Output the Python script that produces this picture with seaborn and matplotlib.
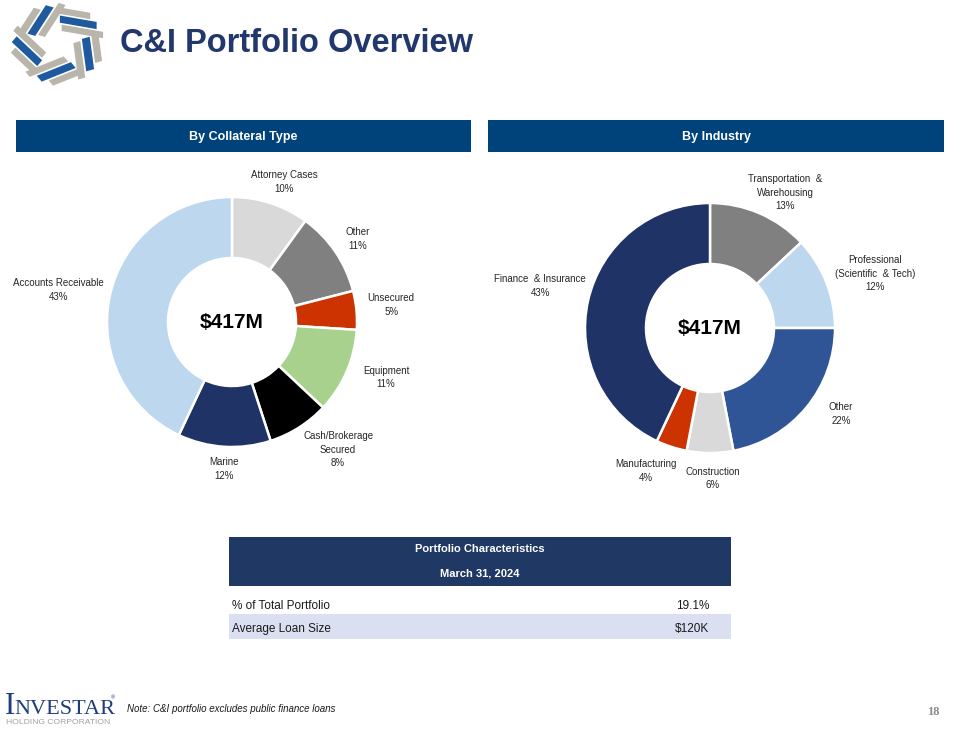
import numpy as np
import matplotlib
matplotlib.use("Agg")
import matplotlib.pyplot as plt
import seaborn as sns
from matplotlib.patches import Rectangle, Polygon

# ---------------- data ----------------
collateral_labels = ["Attorney Cases", "Other", "Unsecured", "Equipment",
                     "Cash/Brokerage\nSecured", "Marine", "Accounts Receivable"]
collateral_values = [10, 11, 5, 11, 8, 12, 43]
collateral_colors = ["#D9D9D9", "#808080", "#CC3300", "#A9D18E",
                     "#000000", "#1F3366", "#BDD7EE"]

industry_labels = ["Transportation  &\nWarehousing", "Professional\n(Scientific  & Tech)",
                   "Other", "Construction", "Manufacturing", "Finance  & Insurance"]
industry_values = [13, 12, 22, 6, 4, 43]
industry_colors = ["#808080", "#BDD7EE", "#2F5597", "#D9D9D9", "#CC3300", "#1F3366"]

center_label = "$417M"
panel_titles = ["By Collateral Type", "By Industry"]

table_header = ["Portfolio Characteristics", "March 31, 2024"]
table_rows = ["% of Total Portfolio", "Average Loan Size"]
table_values = ["19.1%", "$120K"]

title = "C&I Portfolio Overview"
note = "Note: C&I portfolio excludes public finance loans"
page_number = "18"

# label nudges in pixels (layout only)
collateral_nudge = [(0, 0), (-15, 0), (-10, 3), (-2, 3), (15, -3), (3, 0), (-8, 0)]
industry_nudge = [(8, 0), (7, 0), (0, 8), (3, -3), (-12, -3), (-4, 10)]

# ---------------- style ----------------
sns.set_theme(style="white")
SANS = ["Liberation Sans", "DejaVu Sans"]
SERIF = ["Liberation Serif", "DejaVu Serif"]
plt.rcParams["font.family"] = SANS

W, H = 960, 730
fig = plt.figure(figsize=(W / 100, H / 100), dpi=100)
fig.patch.set_facecolor("white")
ax = fig.add_axes([0, 0, 1, 1])


def Y(py):
    return H - py


HEADER_BLUE = "#00427A"
TITLE_NAVY = "#22376B"

# ---------------- logo ----------------
lcx, lcy, lrx, lry = 58, Y(44), 46, 40
GRAY_L, BLUE_L = "#B9B5AA", "#1F5A9E"


def P(pt):
    return (lcx + lrx * pt[0], lcy + lry * pt[1])


for k in range(5):
    a = np.deg2rad(90 - 72 * k)
    u = np.array([np.cos(a), np.sin(a)])
    v = np.array([np.sin(a), -np.cos(a)])  # clockwise tangent
    for (d0, thick, col, t0, t1) in [(0.92, 0.16, GRAY_L, -0.02, 0.70),
                                     (0.72, 0.18, BLUE_L, 0.04, 0.84),
                                     (0.50, 0.16, GRAY_L, 0.08, 0.98)]:
        tilt = 0.20
        pts = []
        for t, dd in [(t0, d0), (t1, d0), (t1, d0 - thick), (t0, d0 - thick)]:
            d = dd - tilt * t
            pts.append(P(d * u + t * v))
        ax.add_patch(Polygon(pts, closed=True, facecolor=col, edgecolor="none"))

# ---------------- title ----------------
ax.text(120, Y(43), title, fontsize=23.5, fontweight="bold", color=TITLE_NAVY,
        ha="left", va="center", family=SANS)

# ---------------- header bars ----------------
bars = [(16, 471), (488, 944)]
for (x0, x1), t in zip(bars, panel_titles):
    ax.add_patch(Rectangle((x0, Y(152)), x1 - x0, 32, facecolor=HEADER_BLUE, edgecolor="none"))
    ax.text((x0 + x1) / 2, Y(137), t, color="white", fontsize=9, fontweight="bold",
            ha="center", va="center", family=SANS)

# ---------------- donuts ----------------
R = 125
WIDTH = 61


def donut(center, values, colors, labels, nudges):
    pal = sns.color_palette(colors)
    wedges, _ = ax.pie(values, colors=pal, startangle=90, counterclock=False,
                       center=center, radius=R,
                       wedgeprops=dict(width=WIDTH, edgecolor="white", linewidth=1.8))
    for w, lab, v, (nx, ny) in zip(wedges, labels, values, nudges):
        mid = np.deg2rad((w.theta1 + w.theta2) / 2)
        x = center[0] + 1.36 * R * np.cos(mid) + nx
        y = center[1] + 1.18 * R * np.sin(mid) + ny
        ax.text(x, y, f"{lab}\n{v}%", ha="center", va="center", fontsize=7,
                linespacing=1.45, color="#262626", family=SANS)
    ax.text(center[0], center[1], center_label, ha="center", va="center",
            fontsize=15, fontweight="bold", color="black", family=SANS)


donut((232, Y(322)), collateral_values, collateral_colors, collateral_labels, collateral_nudge)
donut((710, Y(328)), industry_values, industry_colors, industry_labels, industry_nudge)

# ---------------- table ----------------
tx0, tx1 = 229, 731
ax.add_patch(Rectangle((tx0, Y(586)), tx1 - tx0, 49, facecolor="#203864", edgecolor="none"))
ax.text((tx0 + tx1) / 2, Y(549), table_header[0], color="white", fontsize=8,
        fontweight="bold", ha="center", va="center", family=SANS)
ax.text((tx0 + tx1) / 2, Y(573), table_header[1], color="white", fontsize=8,
        fontweight="bold", ha="center", va="center", family=SANS)
row_y = [606, 629]
ax.add_patch(Rectangle((tx0, Y(639)), tx1 - tx0, 25, facecolor="#DAE0F2", edgecolor="none"))
for ry, lab, val in zip(row_y, table_rows, table_values):
    ax.text(232, Y(ry), lab, fontsize=8.5, ha="left", va="center", color="#1A1A1A", family=SANS)
    ax.text(709, Y(ry), val, fontsize=8.5, ha="right", va="center", color="#1A1A1A", family=SANS)

# ---------------- footer ----------------
ax.text(5, Y(714), "I", fontsize=22, color="#1F3D7A", ha="left", va="baseline", family=SERIF)
ax.text(14, Y(714), "NVESTAR", fontsize=16, color="#1F3D7A", ha="left", va="baseline", family=SERIF)
ax.text(111, Y(698), "®", fontsize=4, color="#1F3D7A", ha="left", va="center", family=SANS)
ax.text(58, Y(722), "HOLDING CORPORATION", fontsize=6.1, color="#A0A0A0", ha="center",
        va="center", family=SANS)
ax.text(127, Y(709), note, fontsize=7, style="italic", color="#1A1A1A", ha="left",
        va="center", family=SANS)
ax.text(933, Y(712), page_number, fontsize=9, color="#8C8C8C", fontweight="bold",
        ha="center", va="center", family=SERIF)

ax.set_xlim(0, W)
ax.set_ylim(0, H)
ax.set_aspect("auto")
ax.axis("off")

fig.savefig("out.png", dpi=100, facecolor="white")
